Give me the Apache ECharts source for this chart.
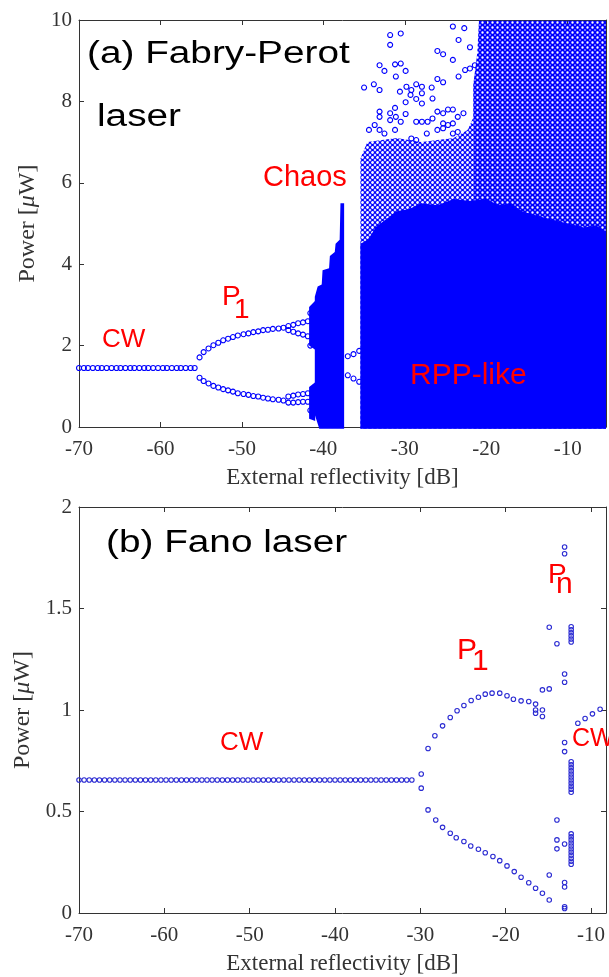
<!DOCTYPE html>
<html>
<head>
<meta charset="utf-8">
<title>Bifurcation diagrams</title>
<script src="https://cdn.jsdelivr.net/npm/echarts@6.0.0/dist/echarts.min.js"></script>
<style>
  html, body { margin: 0; padding: 0; background: #fff; }
  #chart { width: 609px; height: 977px; }
</style>
</head>
<body>
<div id="chart"></div>
<script>
// ---------- (a) Fabry-Perot laser ----------
const fpCwDb = [-70, -69.4, -68.9, -68.3, -67.7, -67.2, -66.6, -66, -65.4, -64.9, -64.3, -63.7, -63.2,
  -62.6, -62, -61.5, -60.9, -60.3, -59.7, -59.2, -58.6, -58, -57.5, -56.9, -56.3, -55.8];
const fpCwPower = 1.45;

const fpP1Upper = [[-55.2, 1.71], [-54.7, 1.84], [-54.1, 1.93], [-53.5, 2.01], [-52.9, 2.07], [-52.3, 2.13],
  [-51.7, 2.17], [-51.1, 2.21], [-50.5, 2.25], [-49.8, 2.28], [-49.2, 2.30], [-48.6, 2.33], [-48.0, 2.35],
  [-47.4, 2.38], [-46.8, 2.39], [-46.2, 2.41], [-45.5, 2.42], [-44.9, 2.44],
  [-44.3, 2.48], [-43.7, 2.51], [-43.1, 2.55], [-42.5, 2.57], [-41.9, 2.60], [-41.6, 2.80],
  [-44.3, 2.38], [-43.7, 2.34], [-43.1, 2.30], [-42.5, 2.27], [-41.9, 2.23], [-41.6, 2.00]];
const fpP1Lower = [[-55.2, 1.21], [-54.7, 1.13], [-54.1, 1.07], [-53.5, 1.01], [-52.9, 0.97], [-52.3, 0.93],
  [-51.7, 0.90], [-51.1, 0.87], [-50.5, 0.83], [-49.8, 0.81], [-49.2, 0.79], [-48.6, 0.76], [-48.0, 0.75],
  [-47.4, 0.72], [-46.8, 0.70], [-46.2, 0.68], [-45.5, 0.67], [-44.9, 0.65],
  [-44.3, 0.75], [-43.7, 0.77], [-43.1, 0.80], [-42.5, 0.81], [-41.9, 0.83],
  [-44.3, 0.60], [-43.7, 0.60], [-43.1, 0.61], [-42.5, 0.62], [-41.9, 0.62], [-41.6, 0.41]];
// periodic window between the chaotic band and the RPP-like region
const fpWindow = [[-37.0, 1.74], [-36.3, 1.79], [-35.6, 1.87], [-37.0, 1.27], [-36.3, 1.19], [-35.6, 1.11]];

// regions where the markers are so dense they merge (outlines)
const fpChaosBand = [[-41.05, 3.2], [-40.7, 3.45], [-40.2, 3.5], [-40.1, 3.85], [-39.3, 3.9], [-39.2, 4.2],
  [-38.6, 4.3], [-38.5, 4.5], [-38.0, 4.6], [-37.9, 5.5], [-37.45, 5.5], [-37.45, -0.04], [-40.5, -0.04], [-41.05, 0.3]];
const fpChaosLobeUp = [[-41.75, 2.0], [-41.75, 2.95], [-41.0, 3.1], [-41.0, 1.9]];
const fpChaosLobeLow = [[-41.75, 0.2], [-41.75, 0.98], [-41.0, 1.1], [-41.0, 0.15]];
const fpRppSolid = [[-35.45, -0.04], [-35.45, 4.5], [-34.5, 4.6], [-33.6, 4.9], [-33, 5.0], [-32, 5.15],
  [-31, 5.3], [-29.5, 5.35], [-28, 5.5], [-26, 5.45], [-24, 5.6], [-22, 5.55], [-20, 5.6], [-18.5, 5.45],
  [-17, 5.5], [-15.6, 5.3], [-14, 5.2], [-12, 5.1], [-10, 5.0], [-8, 4.9], [-6.5, 4.95], [-5.3, 4.8], [-5.3, -0.04]];
const fpRppMidLeft = [[-35.45, -0.04], [-35.45, 6.6], [-34.6, 7.0], [-31, 7.1], [-28, 7.0], [-24, 7.1],
  [-22.3, 7.3], [-21.6, 7.6], [-21.6, -0.04]];
const fpRppMidRight = [[-21.6, -0.04], [-21.6, 8.4], [-21.1, 9.2], [-20.9, 9.98], [-5.3, 9.98], [-5.3, -0.04]];
// isolated points above the dense RPP-like cloud
const fpSparse = [[-31.8, 9.63], [-30.5, 9.67], [-31.8, 9.39], [-24.1, 9.84], [-22.7, 9.80], [-23.4, 9.51],
  [-22.0, 9.33], [-26.0, 9.24], [-25.3, 9.16], [-24.1, 9.02], [-33.1, 8.89], [-32.5, 8.75], [-31.2, 8.91],
  [-30.5, 8.93], [-29.9, 8.75], [-31.1, 8.61], [-35.0, 8.34], [-33.8, 8.42], [-33.1, 8.28], [-26.0, 8.55],
  [-25.3, 8.47], [-23.4, 8.61], [-22.6, 8.77], [-22.0, 8.81], [-21.4, 8.89], [-30.6, 8.24], [-29.8, 8.36],
  [-29.2, 8.28], [-28.6, 8.42], [-27.9, 8.36], [-27.9, 8.20], [-29.3, 8.16], [-29.9, 7.98], [-28.6, 8.06],
  [-26.7, 8.34], [-26.6, 8.07], [-27.9, 7.95], [-31.2, 7.84], [-33.1, 7.75], [-31.8, 7.71], [-33.1, 7.62],
  [-31.1, 7.62], [-30.5, 7.50], [-31.8, 7.54], [-29.9, 7.69], [-28.6, 7.50], [-27.9, 7.50], [-27.2, 7.50],
  [-26.6, 7.58], [-26.0, 7.75], [-25.3, 7.71], [-24.7, 7.80], [-24.1, 7.80], [-23.5, 7.62], [-22.8, 7.71],
  [-24.1, 7.46], [-25.3, 7.46], [-24.7, 7.42], [-33.7, 7.42], [-34.4, 7.30], [-33.1, 7.30], [-32.5, 7.21],
  [-31.2, 7.30], [-27.3, 7.21], [-26.0, 7.30], [-25.3, 7.34], [-24.1, 7.21], [-23.5, 7.25], [-29.2, 7.09],
  [-28.6, 7.05]];

// ---------- (b) Fano laser ----------
const fanoCwDb = [-70, -69.4, -68.8, -68.2, -67.6, -67.0, -66.4, -65.8, -65.2, -64.6, -64.0, -63.4, -62.8,
  -62.2, -61.6, -61.0, -60.4, -59.8, -59.2, -58.6, -58.0, -57.4, -56.8, -56.2, -55.6, -55.0, -54.4, -53.8,
  -53.2, -52.6, -52.0, -51.4, -50.8, -50.2, -49.6, -49.0, -48.4, -47.8, -47.2, -46.6, -46.0, -45.4, -44.8,
  -44.2, -43.6, -43.0, -42.4, -41.8, -41.2, -40.6, -40.0, -39.4, -38.8, -38.2, -37.6, -37.0, -36.4, -35.8,
  -35.2, -34.6, -34.0, -33.4, -32.8, -32.2, -31.6, -31.0];
const fanoCwPower = 0.655;
const fanoP1Upper = [[-29.9, 0.685], [-29.1, 0.81], [-28.3, 0.873], [-27.4, 0.922], [-26.5, 0.963], [-25.7, 0.996],
  [-24.9, 1.022], [-24.05, 1.047], [-23.2, 1.063], [-22.4, 1.078], [-21.6, 1.083], [-20.7, 1.083],
  [-19.85, 1.07], [-19.1, 1.053], [-18.2, 1.045], [-17.3, 1.042], [-16.5, 1.029], [-16.5, 1.0], [-16.5, 0.984],
  [-15.7, 1.0], [-15.7, 0.968], [-15.7, 1.099], [-14.9, 1.104]];
const fanoP1Lower = [[-29.9, 0.615], [-29.1, 0.508], [-28.2, 0.458], [-27.4, 0.422], [-26.5, 0.393], [-25.8, 0.371],
  [-24.9, 0.352], [-24.1, 0.330], [-23.2, 0.314], [-22.4, 0.297], [-21.5, 0.278], [-20.7, 0.258],
  [-19.85, 0.232], [-19.0, 0.204], [-18.2, 0.176], [-17.3, 0.149], [-16.5, 0.122], [-15.7, 0.097], [-14.9, 0.064]];
const fanoPn = [[-14.9, 0.187], [-14.0, 0.458], [-14.0, 0.36], [-14.0, 0.316], [-13.1, 0.34], [-13.1, 0.15],
  [-13.1, 0.128], [-13.1, 0.031], [-13.1, 0.022], [-13.1, 0.84], [-13.1, 0.795], [-14.9, 1.408], [-14.0, 1.326],
  [-13.1, 1.177], [-13.1, 1.137], [-13.1, 1.803], [-13.1, 1.77]];
const fanoPnColumnDb = -12.33;
const fanoPnColumn = [1.41, 1.395, 1.38, 1.365, 1.35, 1.335, 0.745, 0.73, 0.715, 0.70, 0.685, 0.67, 0.655,
  0.64, 0.625, 0.61, 0.595, 0.39, 0.375, 0.36, 0.345, 0.33, 0.315, 0.30, 0.285, 0.27, 0.255, 0.24];
const fanoCwRight = [[-11.55, 0.935], [-10.7, 0.958], [-9.84, 0.981], [-8.94, 1.004]];

// ---------- styling ----------
const blueA = '#0000ff';
const blueB = '#2a2ad2';
const serif = '"Liberation Serif", "Times New Roman", serif';
const sans = '"Liberation Sans", Arial, sans-serif';
const axisCol = '#333';

// tile of one hollow marker, used to texture the half-filled parts of the cloud
function circlePattern(tile, r, lw) {
  const c = document.createElement('canvas');
  c.width = tile; c.height = tile;
  const ctx = c.getContext('2d');
  ctx.strokeStyle = blueA;
  ctx.lineWidth = lw;
  ctx.beginPath();
  ctx.arc(tile / 2, tile / 2, r, 0, Math.PI * 2);
  ctx.stroke();
  return { image: c, repeat: 'repeat' };
}

function dots(data, color, size, idx) {
  return {
    type: 'scatter', xAxisIndex: idx, yAxisIndex: idx, data: data,
    symbol: 'circle', symbolSize: size, silent: true, animation: false,
    itemStyle: { color: 'rgba(0,0,0,0)', borderColor: color, borderWidth: 1.1, opacity: 1 }
  };
}

function areas(polys, fill, idx) {
  return {
    type: 'custom', xAxisIndex: idx, yAxisIndex: idx, silent: true, animation: false,
    data: polys.map(p => p[0]),
    renderItem: (params, api) => ({
      type: 'polygon',
      shape: { points: polys[params.dataIndex].map(v => api.coord(v)) },
      style: { fill: fill }
    })
  };
}

function xAxes(grid, max) {
  const base = {
    gridIndex: grid, type: 'value', min: -70, max: max, interval: 10,
    axisLine: { show: true, onZero: false, lineStyle: { color: axisCol, width: 1 } },
    axisTick: { inside: true, length: 5, lineStyle: { color: axisCol } },
    splitLine: { show: false }
  };
  return [
    Object.assign({}, base, {
      position: 'bottom',
      axisLabel: { fontFamily: serif, fontSize: 21, color: axisCol, margin: 12,
        formatter: v => (v % 10 === 0 ? String(v) : '') },
      name: 'External reflectivity [dB]', nameLocation: 'middle', nameGap: 39,
      nameTextStyle: { fontFamily: serif, fontSize: 23, color: axisCol }
    }),
    Object.assign({}, base, { position: 'top', axisLabel: { show: false } })
  ];
}

function yAxes(grid, max, interval) {
  const base = {
    gridIndex: grid, type: 'value', min: 0, max: max, interval: interval,
    axisLine: { show: true, onZero: false, lineStyle: { color: axisCol, width: 1 } },
    axisTick: { inside: true, length: 5, lineStyle: { color: axisCol } },
    splitLine: { show: false }
  };
  return [
    Object.assign({}, base, {
      position: 'left',
      axisLabel: { fontFamily: serif, fontSize: 21, color: axisCol, margin: 7 },
      name: 'Power [{i|\u03bc}W]', nameLocation: 'middle', nameGap: 39,
      nameTextStyle: { fontFamily: serif, fontSize: 24, color: axisCol,
        rich: { i: { fontFamily: serif, fontSize: 24, fontStyle: 'italic', color: axisCol } } }
    }),
    Object.assign({}, base, { position: 'right', axisLabel: { show: false } })
  ];
}

function label(text, x, y, size, color, sx) {
  return {
    type: 'text', x: x, y: y, scaleX: sx || 1, silent: true, z: 100,
    style: { text: text, x: 0, y: 0, font: size + 'px ' + sans, fill: color,
      textAlign: 'left', textVerticalAlign: 'middle', align: 'left', verticalAlign: 'middle' }
  };
}

const chart = echarts.init(document.getElementById('chart'), null, { renderer: 'canvas' });

// axes 0/1 belong to grid 0 (panel a), axes 2/3 to grid 1 (panel b)
const option = {
  animation: false,
  backgroundColor: '#fff',
  grid: [
    { left: 79, right: 3, top: 20, height: 407 },
    { left: 79, right: 2, top: 507, height: 406 }
  ],
  xAxis: xAxes(0, -5.3).concat(xAxes(1, -8.25)),
  yAxis: yAxes(0, 10, 2).concat(yAxes(1, 2, 0.5)),
  series: [
    areas([fpRppMidLeft], circlePattern(5, 2.0, 1.2), 0),
    areas([fpRppMidRight], circlePattern(5, 2.0, 1.6), 0),
    areas([fpRppSolid, fpChaosBand, fpChaosLobeUp, fpChaosLobeLow], blueA, 0),
    dots(fpCwDb.map(x => [x, fpCwPower]), blueA, 5, 0),
    dots(fpP1Upper.concat(fpP1Lower, fpWindow, fpSparse), blueA, 5, 0),
    dots(fanoCwDb.map(x => [x, fanoCwPower]), blueB, 4.5, 2),
    dots(fanoP1Upper.concat(fanoP1Lower, fanoPn, fanoCwRight), blueB, 4.5, 2),
    dots(fanoPnColumn.map(v => [fanoPnColumnDb, v]), blueB, 4.5, 2)
  ],
  graphic: [
    label('(a) Fabry-Perot', 87, 54, 31, '#000', 1.25),
    label('laser', 97, 117, 31, '#000', 1.25),
    label('Chaos', 263, 178, 29, '#ff0000'),
    label('CW', 102, 340, 26, '#ff0000'),
    label('P', 222, 297, 28, '#ff0000'),
    label('1', 234, 310, 28, '#ff0000'),
    label('RPP-like', 410, 376, 30, '#ff0000'),
    label('(b) Fano laser', 106, 543, 31, '#000', 1.25),
    label('CW', 220, 743, 26, '#ff0000'),
    label('P', 457, 651, 30, '#ff0000'),
    label('1', 472, 662, 30, '#ff0000'),
    label('P', 548, 575, 28, '#ff0000'),
    label('n', 556, 585, 30, '#ff0000'),
    label('CW', 572, 739, 25, '#ff0000')
  ]
};
chart.setOption(option);
</script>
</body>
</html>
